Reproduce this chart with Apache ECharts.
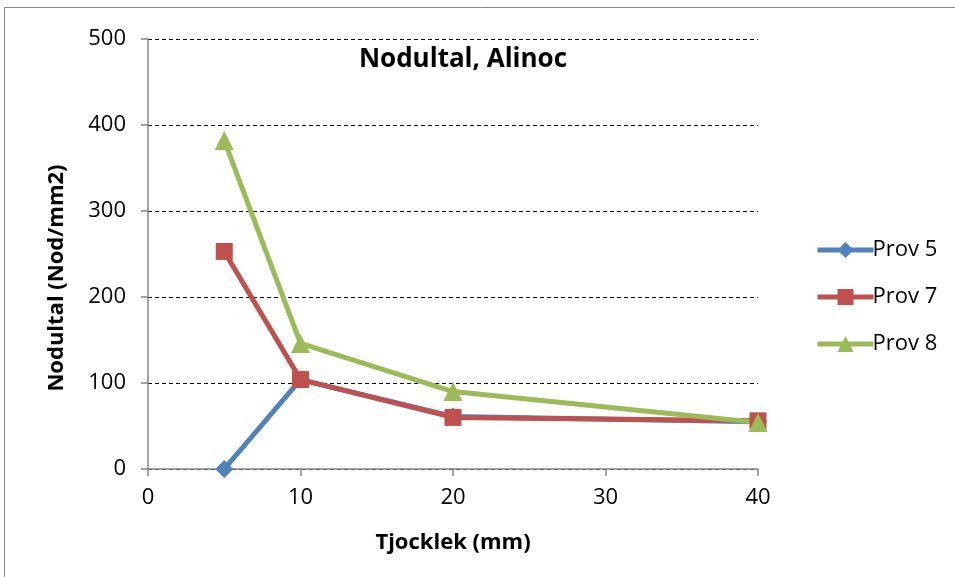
<!DOCTYPE html>
<html>
<head>
<meta charset="utf-8">
<script src="https://cdn.jsdelivr.net/npm/echarts@6/dist/echarts.min.js"></script>
<style>
  html, body { margin: 0; padding: 0; background: #fff; }
  #chart { width: 955px; height: 577px; }
</style>
</head>
<body>
<div id="chart"></div>
<script>
// tjocklek (mm)
var thickness = [5, 10, 20, 40];
var prov5 = [0, 104, 61, 55];
var prov7 = [253, 104, 60, 56];
var prov8 = [382, 146, 90, 54];
var seriesNames = ['Prov 5', 'Prov 7', 'Prov 8'];
var colors = ['#4F81BD', '#C0504D', '#9BBB59'];
var font = 'Open Sans, Noto Sans, sans-serif';

function pairs(vals) {
    var out = [];
    for (var i = 0; i < thickness.length; i++) {
        out.push([thickness[i], vals[i]]);
    }
    return out;
}

var chart = echarts.init(document.getElementById('chart'));
var option = {
    animation: false,
    graphic: [{
        type: 'rect',
        shape: { x: 4.5, y: 7.5, width: 960, height: 580 },
        style: { fill: 'none', stroke: '#898989', lineWidth: 1 }
    }],
    title: {
        text: 'Nodultal, Alinoc',
        left: 458, top: 42, textAlign: 'center',
        textStyle: { fontFamily: font, fontSize: 26, fontWeight: 'bold', color: '#000' }
    },
    legend: {
        orient: 'vertical',
        left: 810, top: 234,
        itemWidth: 56, itemHeight: 20, itemGap: 25,
        data: seriesNames,
        lineStyle: { width: 5 },
        textStyle: { fontFamily: font, fontSize: 22, color: '#000', padding: [0, 0, 0, -6] }
    },
    grid: { left: 148, right: 197, top: 39, bottom: 108 },
    xAxis: {
        type: 'value', min: 0, max: 40, interval: 10,
        name: 'Tjocklek (mm)', nameLocation: 'middle', nameGap: 63, nameMoveOverlap: false,
        nameTextStyle: { fontFamily: font, fontSize: 22, fontWeight: 'bold', color: '#000' },
        axisLine: { lineStyle: { color: '#868686', width: 1.5 } },
        axisTick: { show: true, length: 7, lineStyle: { color: '#868686', width: 1.5 } },
        axisLabel: { fontFamily: font, fontSize: 22, color: '#000', margin: 18 },
        splitLine: { show: false }
    },
    yAxis: {
        type: 'value', min: 0, max: 500, interval: 100,
        name: 'Nodultal (Nod/mm2)', nameLocation: 'middle', nameGap: 80, nameRotate: 90,
        nameMoveOverlap: false,
        nameTextStyle: { fontFamily: font, fontSize: 22, fontWeight: 'bold', color: '#000', padding: [0, 48, 0, 0] },
        axisLine: { show: true, lineStyle: { color: '#868686', width: 1.5 } },
        axisTick: { show: true, inside: false, length: 7, lineStyle: { color: '#868686', width: 1.5 } },
        axisLabel: { fontFamily: font, fontSize: 22, color: '#000', margin: 22 },
        splitLine: { show: true, lineStyle: { color: '#000', type: [4, 3], width: 1 } }
    },
    series: [
        {
            name: seriesNames[0], type: 'line', data: pairs(prov5),
            symbol: 'diamond', symbolSize: 18,
            itemStyle: { color: colors[0] }, lineStyle: { width: 5, color: colors[0] }
        },
        {
            name: seriesNames[1], type: 'line', data: pairs(prov7),
            symbol: 'rect', symbolSize: 17,
            itemStyle: { color: colors[1] }, lineStyle: { width: 5, color: colors[1] }
        },
        {
            name: seriesNames[2], type: 'line', data: pairs(prov8),
            symbol: 'triangle', symbolSize: 19,
            itemStyle: { color: colors[2] }, lineStyle: { width: 5, color: colors[2] }
        }
    ]
};
chart.setOption(option);
</script>
</body>
</html>
